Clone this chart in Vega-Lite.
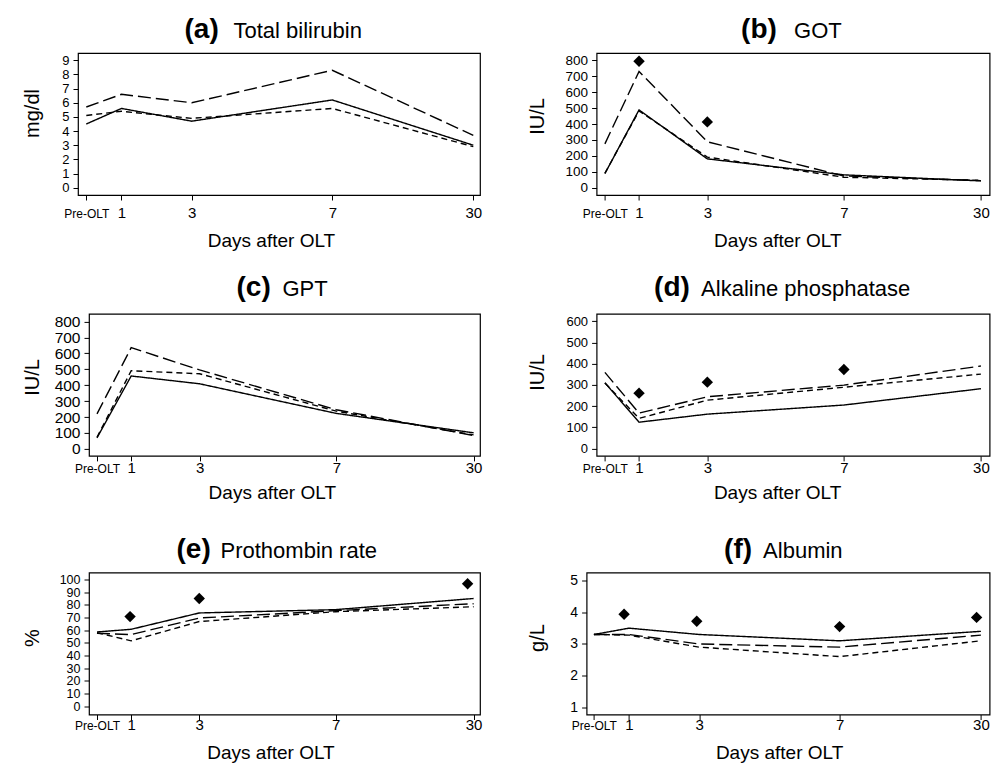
{
  "$schema": "https://vega.github.io/schema/vega-lite/v6.json",
  "padding": {"left": 20, "top": 14, "right": 5, "bottom": 5},
  "background": "white",
  "config": {
    "font": "Liberation Sans",
    "view": {"stroke": "black", "strokeWidth": 1.2},
    "axis": {"domain": false, "grid": false, "tickColor": "black", "tickSize": 5, "tickWidth": 1, "labelColor": "black", "titleColor": "black", "labelFont": "Liberation Sans", "titleFont": "Liberation Sans", "titleFontWeight": "normal", "labelOverlap": false, "labelFlush": false}
  },
  "data": {"values": [
    {"panel": "a", "series": "Group 1", "day": 0, "value": 4.5},
    {"panel": "a", "series": "Group 1", "day": 1, "value": 5.6},
    {"panel": "a", "series": "Group 1", "day": 3, "value": 4.7},
    {"panel": "a", "series": "Group 1", "day": 7, "value": 6.2},
    {"panel": "a", "series": "Group 1", "day": 30, "value": 3.0},
    {"panel": "a", "series": "Group 2", "day": 0, "value": 5.7},
    {"panel": "a", "series": "Group 2", "day": 1, "value": 6.6},
    {"panel": "a", "series": "Group 2", "day": 3, "value": 6.0},
    {"panel": "a", "series": "Group 2", "day": 7, "value": 8.3},
    {"panel": "a", "series": "Group 2", "day": 30, "value": 3.7},
    {"panel": "a", "series": "Group 3", "day": 0, "value": 5.1},
    {"panel": "a", "series": "Group 3", "day": 1, "value": 5.4},
    {"panel": "a", "series": "Group 3", "day": 3, "value": 4.9},
    {"panel": "a", "series": "Group 3", "day": 7, "value": 5.6},
    {"panel": "a", "series": "Group 3", "day": 30, "value": 2.9},

    {"panel": "b", "series": "Group 1", "day": 0, "value": 90},
    {"panel": "b", "series": "Group 1", "day": 1, "value": 488},
    {"panel": "b", "series": "Group 1", "day": 3, "value": 182},
    {"panel": "b", "series": "Group 1", "day": 7, "value": 82},
    {"panel": "b", "series": "Group 1", "day": 30, "value": 44},
    {"panel": "b", "series": "Group 2", "day": 0, "value": 276},
    {"panel": "b", "series": "Group 2", "day": 1, "value": 729},
    {"panel": "b", "series": "Group 2", "day": 3, "value": 289},
    {"panel": "b", "series": "Group 2", "day": 7, "value": 75},
    {"panel": "b", "series": "Group 2", "day": 30, "value": 46},
    {"panel": "b", "series": "Group 3", "day": 0, "value": 92},
    {"panel": "b", "series": "Group 3", "day": 1, "value": 482},
    {"panel": "b", "series": "Group 3", "day": 3, "value": 193},
    {"panel": "b", "series": "Group 3", "day": 7, "value": 67},
    {"panel": "b", "series": "Group 3", "day": 30, "value": 48},
    {"panel": "b", "series": "Reference", "day": 1, "value": 792},
    {"panel": "b", "series": "Reference", "day": 3, "value": 413},

    {"panel": "c", "series": "Group 1", "day": 0, "value": 69},
    {"panel": "c", "series": "Group 1", "day": 1, "value": 458},
    {"panel": "c", "series": "Group 1", "day": 3, "value": 409},
    {"panel": "c", "series": "Group 1", "day": 7, "value": 223},
    {"panel": "c", "series": "Group 1", "day": 30, "value": 101},
    {"panel": "c", "series": "Group 2", "day": 0, "value": 220},
    {"panel": "c", "series": "Group 2", "day": 1, "value": 636},
    {"panel": "c", "series": "Group 2", "day": 3, "value": 496},
    {"panel": "c", "series": "Group 2", "day": 7, "value": 246},
    {"panel": "c", "series": "Group 2", "day": 30, "value": 84},
    {"panel": "c", "series": "Group 3", "day": 0, "value": 73},
    {"panel": "c", "series": "Group 3", "day": 1, "value": 491},
    {"panel": "c", "series": "Group 3", "day": 3, "value": 472},
    {"panel": "c", "series": "Group 3", "day": 7, "value": 237},
    {"panel": "c", "series": "Group 3", "day": 30, "value": 88},

    {"panel": "d", "series": "Group 1", "day": 0, "value": 310},
    {"panel": "d", "series": "Group 1", "day": 1, "value": 124},
    {"panel": "d", "series": "Group 1", "day": 3, "value": 162},
    {"panel": "d", "series": "Group 1", "day": 7, "value": 205},
    {"panel": "d", "series": "Group 1", "day": 30, "value": 282},
    {"panel": "d", "series": "Group 2", "day": 0, "value": 359},
    {"panel": "d", "series": "Group 2", "day": 1, "value": 167},
    {"panel": "d", "series": "Group 2", "day": 3, "value": 244},
    {"panel": "d", "series": "Group 2", "day": 7, "value": 299},
    {"panel": "d", "series": "Group 2", "day": 30, "value": 389},
    {"panel": "d", "series": "Group 3", "day": 0, "value": 309},
    {"panel": "d", "series": "Group 3", "day": 1, "value": 142},
    {"panel": "d", "series": "Group 3", "day": 3, "value": 228},
    {"panel": "d", "series": "Group 3", "day": 7, "value": 289},
    {"panel": "d", "series": "Group 3", "day": 30, "value": 351},
    {"panel": "d", "series": "Reference", "day": 1, "value": 261},
    {"panel": "d", "series": "Reference", "day": 3, "value": 313},
    {"panel": "d", "series": "Reference", "day": 7, "value": 373},

    {"panel": "e", "series": "Group 1", "day": 0, "value": 58.6},
    {"panel": "e", "series": "Group 1", "day": 1, "value": 60.7},
    {"panel": "e", "series": "Group 1", "day": 3, "value": 73.6},
    {"panel": "e", "series": "Group 1", "day": 7, "value": 76.2},
    {"panel": "e", "series": "Group 1", "day": 30, "value": 85},
    {"panel": "e", "series": "Group 2", "day": 0, "value": 57.6},
    {"panel": "e", "series": "Group 2", "day": 1, "value": 56.5},
    {"panel": "e", "series": "Group 2", "day": 3, "value": 69.6},
    {"panel": "e", "series": "Group 2", "day": 7, "value": 75.4},
    {"panel": "e", "series": "Group 2", "day": 30, "value": 80.9},
    {"panel": "e", "series": "Group 3", "day": 0, "value": 58},
    {"panel": "e", "series": "Group 3", "day": 1, "value": 51.6},
    {"panel": "e", "series": "Group 3", "day": 3, "value": 66.8},
    {"panel": "e", "series": "Group 3", "day": 7, "value": 74.6},
    {"panel": "e", "series": "Group 3", "day": 30, "value": 78.5},
    {"panel": "e", "series": "Reference", "day": 0.97, "value": 70.7},
    {"panel": "e", "series": "Reference", "day": 3, "value": 85},
    {"panel": "e", "series": "Reference", "day": 29, "value": 96.6},

    {"panel": "f", "series": "Group 1", "day": 0, "value": 3.3},
    {"panel": "f", "series": "Group 1", "day": 1, "value": 3.5},
    {"panel": "f", "series": "Group 1", "day": 3, "value": 3.3},
    {"panel": "f", "series": "Group 1", "day": 7, "value": 3.1},
    {"panel": "f", "series": "Group 1", "day": 30, "value": 3.4},
    {"panel": "f", "series": "Group 2", "day": 0, "value": 3.3},
    {"panel": "f", "series": "Group 2", "day": 1, "value": 3.3},
    {"panel": "f", "series": "Group 2", "day": 3, "value": 3.0},
    {"panel": "f", "series": "Group 2", "day": 7, "value": 2.9},
    {"panel": "f", "series": "Group 2", "day": 30, "value": 3.28},
    {"panel": "f", "series": "Group 3", "day": 0, "value": 3.3},
    {"panel": "f", "series": "Group 3", "day": 1, "value": 3.28},
    {"panel": "f", "series": "Group 3", "day": 3, "value": 2.9},
    {"panel": "f", "series": "Group 3", "day": 7, "value": 2.6},
    {"panel": "f", "series": "Group 3", "day": 30, "value": 3.1},
    {"panel": "f", "series": "Reference", "day": 0.86, "value": 3.94},
    {"panel": "f", "series": "Reference", "day": 2.93, "value": 3.72},
    {"panel": "f", "series": "Reference", "day": 7, "value": 3.55},
    {"panel": "f", "series": "Reference", "day": 29.3, "value": 3.84}
  ]},
  "spacing": 31.5,
  "vconcat": [
    {
      "spacing": 21.9,
      "vconcat": [
        {
          "spacing": 43.6,
          "hconcat": [
            {
              "spacing": 0,
              "hconcat": [
                {"width": 1, "height": 142, "view": {"stroke": null}, "transform": [{"filter": "false"}], "mark": "point", "encoding": {}},
                {
                  "width": 402, "height": 142,
                  "transform": [{"filter": "datum.panel === 'a'"}],
                  "resolve": {"axis": {"x": "independent", "y": "independent"}},
                  "layer": [
                    {
                      "transform": [{"filter": "datum.series !== 'Reference'"}],
                      "mark": {"type": "line", "color": "black", "strokeWidth": 1.4},
                      "encoding": {
                        "x": {"field": "day", "type": "quantitative", "scale": {"domain": [0, 7, 30], "range": [8.3, 254.3, 395.3], "nice": false, "zero": false},
                          "axis": {"orient": "bottom", "values": [0, 1, 3, 7, 30], "format": "d", "labelExpr": "datum.value === 0 ? 'Pre-OLT' : datum.label", "labelFontSize": {"condition": {"test": "datum.value === 0", "value": 12}, "value": 15}, "labelBaseline": "alphabetic", "labelPadding": 17.7, "title": "Days after OLT", "titleFontSize": 19, "titleX": 193, "titleY": 51, "titleAlign": "center", "titleBaseline": "alphabetic"}},
                        "y": {"field": "value", "type": "quantitative", "scale": {"domain": [-0.52, 9.52], "nice": false, "zero": false},
                          "axis": {"values": [0, 1, 2, 3, 4, 5, 6, 7, 8, 9], "format": "d", "labelFontSize": 13, "labelPadding": 4, "title": "mg/dl", "titleFontSize": 20, "titleX": -40, "titleY": 60, "titleAngle": 270, "titleAlign": "center", "titleBaseline": "alphabetic"}},
                        "strokeDash": {"field": "series", "type": "nominal", "scale": {"domain": ["Group 1", "Group 2", "Group 3"], "range": [[1, 0], [13, 5], [6, 4]]}, "legend": null}
                      }
                    },
                    {
                      "transform": [{"filter": "datum.series === 'Reference'"}],
                      "mark": {"type": "point", "shape": "diamond", "filled": true, "color": "black", "size": 130, "opacity": 1},
                      "encoding": {
                        "x": {"field": "day", "type": "quantitative", "scale": {"domain": [0, 7, 30], "range": [8.3, 254.3, 395.3], "nice": false, "zero": false},
                          "axis": {"orient": "top", "labels": false, "ticks": false, "domain": false, "title": "(a)", "titleFontSize": 28, "titleFontWeight": "bold", "titleX": 106, "titleY": -16, "titleAlign": "left", "titleBaseline": "alphabetic", "titleAngle": 0}},
                        "y": {"field": "value", "type": "quantitative", "scale": {"domain": [-0.52, 9.52], "nice": false, "zero": false},
                          "axis": {"orient": "right", "labels": false, "ticks": false, "domain": false, "title": "Total bilirubin", "titleFontSize": 22, "titleX": -247, "titleY": -16, "titleAlign": "left", "titleBaseline": "alphabetic", "titleAngle": 0}}
                      }
                    }
                  ]
                }
              ]
            },
            {
              "width": 393, "height": 142,
              "transform": [{"filter": "datum.panel === 'b'"}],
              "resolve": {"axis": {"x": "independent", "y": "independent"}},
              "layer": [
                {
                  "transform": [{"filter": "datum.series !== 'Reference'"}],
                  "mark": {"type": "line", "color": "black", "strokeWidth": 1.4},
                  "encoding": {
                    "x": {"field": "day", "type": "quantitative", "scale": {"domain": [0, 7, 30], "range": [8.3, 247.3, 384.3], "nice": false, "zero": false},
                      "axis": {"orient": "bottom", "values": [0, 1, 3, 7, 30], "format": "d", "labelExpr": "datum.value === 0 ? 'Pre-OLT' : datum.label", "labelFontSize": {"condition": {"test": "datum.value === 0", "value": 12}, "value": 15}, "labelBaseline": "alphabetic", "labelPadding": 17.7, "title": "Days after OLT", "titleFontSize": 19, "titleX": 180.7, "titleY": 51, "titleAlign": "center", "titleBaseline": "alphabetic"}},
                    "y": {"field": "value", "type": "quantitative", "scale": {"domain": [-44, 844], "nice": false, "zero": false},
                      "axis": {"values": [0, 100, 200, 300, 400, 500, 600, 700, 800], "format": "d", "labelFontSize": 13.5, "labelPadding": 4, "title": "IU/L", "titleFontSize": 20, "titleX": -53, "titleY": 63, "titleAngle": 270, "titleAlign": "center", "titleBaseline": "alphabetic"}},
                    "strokeDash": {"field": "series", "type": "nominal", "scale": {"domain": ["Group 1", "Group 2", "Group 3"], "range": [[1, 0], [13, 5], [6, 4]]}, "legend": null}
                  }
                },
                {
                  "transform": [{"filter": "datum.series === 'Reference'"}],
                  "mark": {"type": "point", "shape": "diamond", "filled": true, "color": "black", "size": 130, "opacity": 1},
                  "encoding": {
                    "x": {"field": "day", "type": "quantitative", "scale": {"domain": [0, 7, 30], "range": [8.3, 247.3, 384.3], "nice": false, "zero": false},
                      "axis": {"orient": "top", "labels": false, "ticks": false, "domain": false, "title": "(b)", "titleFontSize": 28, "titleFontWeight": "bold", "titleX": 144, "titleY": -16, "titleAlign": "left", "titleBaseline": "alphabetic", "titleAngle": 0}},
                    "y": {"field": "value", "type": "quantitative", "scale": {"domain": [-44, 844], "nice": false, "zero": false},
                      "axis": {"orient": "right", "labels": false, "ticks": false, "domain": false, "title": "GOT", "titleFontSize": 22, "titleX": -196, "titleY": -16, "titleAlign": "left", "titleBaseline": "alphabetic", "titleAngle": 0}}
                  }
                }
              ]
            }
          ]
        },
        {
          "spacing": 43.6,
          "hconcat": [
            {
              "spacing": 0,
              "hconcat": [
                {"width": 1, "height": 142, "view": {"stroke": null}, "transform": [{"filter": "false"}], "mark": "point", "encoding": {}},
                {
                  "width": 391, "height": 142,
                  "transform": [{"filter": "datum.panel === 'c'"}],
                  "resolve": {"axis": {"x": "independent", "y": "independent"}},
                  "layer": [
                    {
                      "transform": [{"filter": "datum.series !== 'Reference'"}],
                      "mark": {"type": "line", "color": "black", "strokeWidth": 1.4},
                      "encoding": {
                        "x": {"field": "day", "type": "quantitative", "scale": {"domain": [0, 7, 30], "range": [8, 247.3, 384.6], "nice": false, "zero": false},
                          "axis": {"orient": "bottom", "values": [0, 1, 3, 7, 30], "format": "d", "labelExpr": "datum.value === 0 ? 'Pre-OLT' : datum.label", "labelFontSize": {"condition": {"test": "datum.value === 0", "value": 12}, "value": 15}, "labelBaseline": "alphabetic", "labelPadding": 12, "title": "Days after OLT", "titleFontSize": 19, "titleX": 182.8, "titleY": 42.5, "titleAlign": "center", "titleBaseline": "alphabetic"}},
                        "y": {"field": "value", "type": "quantitative", "scale": {"domain": [-44, 848], "nice": false, "zero": false},
                          "axis": {"values": [0, 100, 200, 300, 400, 500, 600, 700, 800], "format": "d", "labelFontSize": 15.5, "labelPadding": 4, "title": "IU/L", "titleFontSize": 20, "titleX": -51, "titleY": 63, "titleAngle": 270, "titleAlign": "center", "titleBaseline": "alphabetic"}},
                        "strokeDash": {"field": "series", "type": "nominal", "scale": {"domain": ["Group 1", "Group 2", "Group 3"], "range": [[1, 0], [13, 5], [6, 4]]}, "legend": null}
                      }
                    },
                    {
                      "transform": [{"filter": "datum.series === 'Reference'"}],
                      "mark": {"type": "point", "shape": "diamond", "filled": true, "color": "black", "size": 130, "opacity": 1},
                      "encoding": {
                        "x": {"field": "day", "type": "quantitative", "scale": {"domain": [0, 7, 30], "range": [8, 247.3, 384.6], "nice": false, "zero": false},
                          "axis": {"orient": "top", "labels": false, "ticks": false, "domain": false, "title": "(c)", "titleFontSize": 28, "titleFontWeight": "bold", "titleX": 147, "titleY": -18, "titleAlign": "left", "titleBaseline": "alphabetic", "titleAngle": 0}},
                        "y": {"field": "value", "type": "quantitative", "scale": {"domain": [-44, 848], "nice": false, "zero": false},
                          "axis": {"orient": "right", "labels": false, "ticks": false, "domain": false, "title": "GPT", "titleFontSize": 22, "titleX": -198, "titleY": -18, "titleAlign": "left", "titleBaseline": "alphabetic", "titleAngle": 0}}
                      }
                    }
                  ]
                }
              ]
            },
            {
              "width": 393, "height": 142,
              "transform": [{"filter": "datum.panel === 'd'"}],
              "resolve": {"axis": {"x": "independent", "y": "independent"}},
              "layer": [
                {
                  "transform": [{"filter": "datum.series !== 'Reference'"}],
                  "mark": {"type": "line", "color": "black", "strokeWidth": 1.4},
                  "encoding": {
                    "x": {"field": "day", "type": "quantitative", "scale": {"domain": [0, 7, 30], "range": [8.3, 247.3, 384.3], "nice": false, "zero": false},
                      "axis": {"orient": "bottom", "values": [0, 1, 3, 7, 30], "format": "d", "labelExpr": "datum.value === 0 ? 'Pre-OLT' : datum.label", "labelFontSize": {"condition": {"test": "datum.value === 0", "value": 12}, "value": 15}, "labelBaseline": "alphabetic", "labelPadding": 12, "title": "Days after OLT", "titleFontSize": 19, "titleX": 180.5, "titleY": 42.5, "titleAlign": "center", "titleBaseline": "alphabetic"}},
                    "y": {"field": "value", "type": "quantitative", "scale": {"domain": [-35, 635], "nice": false, "zero": false},
                      "axis": {"values": [0, 100, 200, 300, 400, 500, 600], "format": "d", "labelFontSize": 13, "labelPadding": 4, "title": "IU/L", "titleFontSize": 20, "titleX": -53, "titleY": 58, "titleAngle": 270, "titleAlign": "center", "titleBaseline": "alphabetic"}},
                    "strokeDash": {"field": "series", "type": "nominal", "scale": {"domain": ["Group 1", "Group 2", "Group 3"], "range": [[1, 0], [13, 5], [6, 4]]}, "legend": null}
                  }
                },
                {
                  "transform": [{"filter": "datum.series === 'Reference'"}],
                  "mark": {"type": "point", "shape": "diamond", "filled": true, "color": "black", "size": 130, "opacity": 1},
                  "encoding": {
                    "x": {"field": "day", "type": "quantitative", "scale": {"domain": [0, 7, 30], "range": [8.3, 247.3, 384.3], "nice": false, "zero": false},
                      "axis": {"orient": "top", "labels": false, "ticks": false, "domain": false, "title": "(d)", "titleFontSize": 28, "titleFontWeight": "bold", "titleX": 57, "titleY": -18, "titleAlign": "left", "titleBaseline": "alphabetic", "titleAngle": 0}},
                    "y": {"field": "value", "type": "quantitative", "scale": {"domain": [-35, 635], "nice": false, "zero": false},
                      "axis": {"orient": "right", "labels": false, "ticks": false, "domain": false, "title": "Alkaline phosphatase", "titleFontSize": 22, "titleX": -289, "titleY": -18, "titleAlign": "left", "titleBaseline": "alphabetic", "titleAngle": 0}}
                  }
                }
              ]
            }
          ]
        }
      ]
    },
    {
      "spacing": 43.6,
      "hconcat": [
        {
          "spacing": 0,
          "hconcat": [
            {"width": 1, "height": 142, "view": {"stroke": null}, "transform": [{"filter": "false"}], "mark": "point", "encoding": {}},
            {
              "width": 391, "height": 142,
              "transform": [{"filter": "datum.panel === 'e'"}],
              "resolve": {"axis": {"x": "independent", "y": "independent"}},
              "layer": [
                {
                  "transform": [{"filter": "datum.series !== 'Reference'"}],
                  "mark": {"type": "line", "color": "black", "strokeWidth": 1.4},
                  "encoding": {
                    "x": {"field": "day", "type": "quantitative", "scale": {"domain": [0, 7, 30], "range": [8, 246.6, 384.6], "nice": false, "zero": false},
                      "axis": {"orient": "bottom", "values": [0, 1, 3, 7, 30], "format": "d", "labelExpr": "datum.value === 0 ? 'Pre-OLT' : datum.label", "labelFontSize": {"condition": {"test": "datum.value === 0", "value": 12}, "value": 15}, "labelBaseline": "alphabetic", "labelPadding": 9.5, "title": "Days after OLT", "titleFontSize": 19, "titleX": 181.5, "titleY": 44, "titleAlign": "center", "titleBaseline": "alphabetic"}},
                    "y": {"field": "value", "type": "quantitative", "scale": {"domain": [-6.5, 105.5], "nice": false, "zero": false},
                      "axis": {"values": [0, 10, 20, 30, 40, 50, 60, 70, 80, 90, 100], "format": "d", "labelFontSize": 12.5, "labelPadding": 4, "title": "%", "titleFontSize": 20, "titleX": -51, "titleY": 65, "titleAngle": 270, "titleAlign": "center", "titleBaseline": "alphabetic"}},
                    "strokeDash": {"field": "series", "type": "nominal", "scale": {"domain": ["Group 1", "Group 2", "Group 3"], "range": [[1, 0], [13, 5], [6, 4]]}, "legend": null}
                  }
                },
                {
                  "transform": [{"filter": "datum.series === 'Reference'"}],
                  "mark": {"type": "point", "shape": "diamond", "filled": true, "color": "black", "size": 130, "opacity": 1},
                  "encoding": {
                    "x": {"field": "day", "type": "quantitative", "scale": {"domain": [0, 7, 30], "range": [8, 246.6, 384.6], "nice": false, "zero": false},
                      "axis": {"orient": "top", "labels": false, "ticks": false, "domain": false, "title": "(e)", "titleFontSize": 28, "titleFontWeight": "bold", "titleX": 87, "titleY": -15, "titleAlign": "left", "titleBaseline": "alphabetic", "titleAngle": 0}},
                    "y": {"field": "value", "type": "quantitative", "scale": {"domain": [-6.5, 105.5], "nice": false, "zero": false},
                      "axis": {"orient": "right", "labels": false, "ticks": false, "domain": false, "title": "Prothombin rate", "titleFontSize": 22, "titleX": -260, "titleY": -15, "titleAlign": "left", "titleBaseline": "alphabetic", "titleAngle": 0}}
                  }
                }
              ]
            }
          ]
        },
        {
          "width": 403, "height": 142,
          "transform": [{"filter": "datum.panel === 'f'"}],
          "resolve": {"axis": {"x": "independent", "y": "independent"}},
          "layer": [
            {
              "transform": [{"filter": "datum.series !== 'Reference'"}],
              "mark": {"type": "line", "color": "black", "strokeWidth": 1.4},
              "encoding": {
                "x": {"field": "day", "type": "quantitative", "scale": {"domain": [0, 7, 30], "range": [7.3, 253, 394.3], "nice": false, "zero": false},
                  "axis": {"orient": "bottom", "values": [0, 1, 3, 7, 30], "format": "d", "labelExpr": "datum.value === 0 ? 'Pre-OLT' : datum.label", "labelFontSize": {"condition": {"test": "datum.value === 0", "value": 12}, "value": 15}, "labelBaseline": "alphabetic", "labelPadding": 9.5, "title": "Days after OLT", "titleFontSize": 19, "titleX": 192.5, "titleY": 44, "titleAlign": "center", "titleBaseline": "alphabetic"}},
                "y": {"field": "value", "type": "quantitative", "scale": {"domain": [0.77, 5.26], "nice": false, "zero": false},
                  "axis": {"values": [1, 2, 3, 4, 5], "format": "d", "labelFontSize": 14, "labelPadding": 4, "title": "g/L", "titleFontSize": 20, "titleX": -43, "titleY": 65, "titleAngle": 270, "titleAlign": "center", "titleBaseline": "alphabetic"}},
                "strokeDash": {"field": "series", "type": "nominal", "scale": {"domain": ["Group 1", "Group 2", "Group 3"], "range": [[1, 0], [13, 5], [6, 4]]}, "legend": null}
              }
            },
            {
              "transform": [{"filter": "datum.series === 'Reference'"}],
              "mark": {"type": "point", "shape": "diamond", "filled": true, "color": "black", "size": 130, "opacity": 1},
              "encoding": {
                "x": {"field": "day", "type": "quantitative", "scale": {"domain": [0, 7, 30], "range": [7.3, 253, 394.3], "nice": false, "zero": false},
                  "axis": {"orient": "top", "labels": false, "ticks": false, "domain": false, "title": "(f)", "titleFontSize": 28, "titleFontWeight": "bold", "titleX": 137, "titleY": -15, "titleAlign": "left", "titleBaseline": "alphabetic", "titleAngle": 0}},
                "y": {"field": "value", "type": "quantitative", "scale": {"domain": [0.77, 5.26], "nice": false, "zero": false},
                  "axis": {"orient": "right", "labels": false, "ticks": false, "domain": false, "title": "Albumin", "titleFontSize": 22, "titleX": -227, "titleY": -15, "titleAlign": "left", "titleBaseline": "alphabetic", "titleAngle": 0}}
              }
            }
          ]
        }
      ]
    }
  ]
}
